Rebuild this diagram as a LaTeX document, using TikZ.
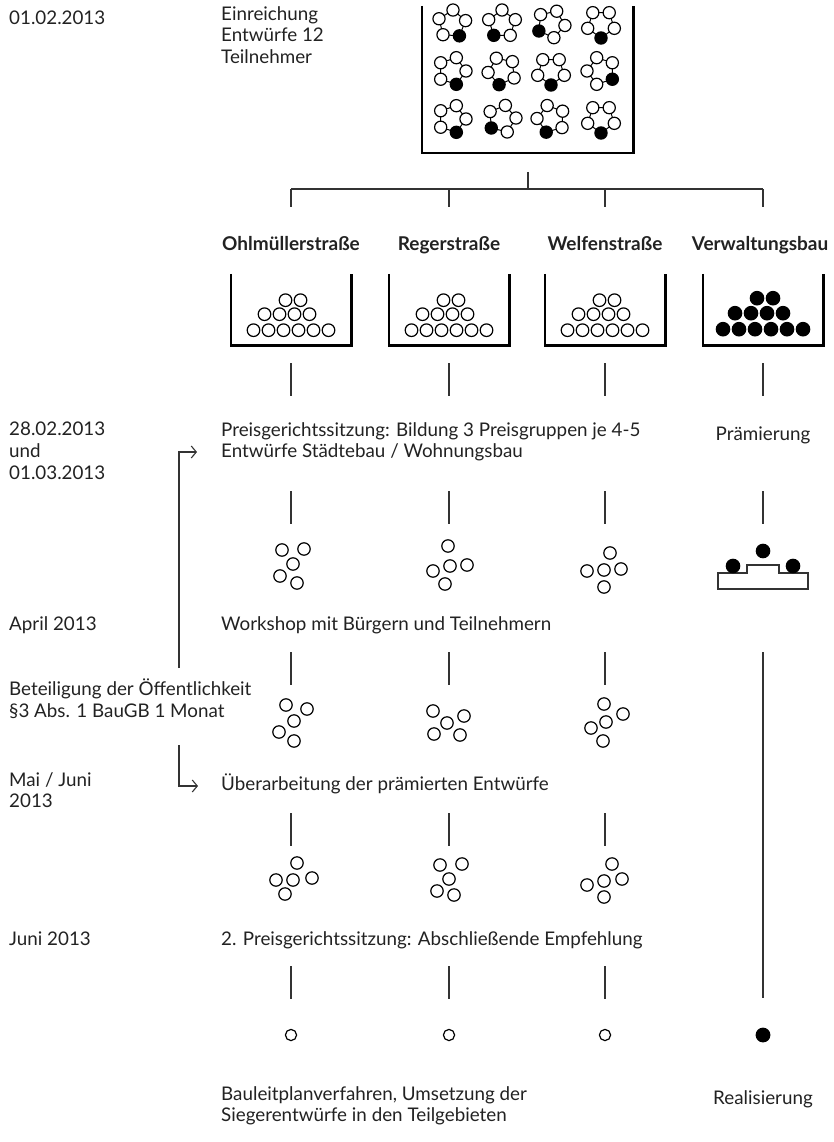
\documentclass[tikz,border=0pt]{standalone}
\usepackage{fontspec}
\setmainfont{Lato}
\usepackage{tikz}
\usetikzlibrary{arrows.meta}
\definecolor{ink}{HTML}{222222}
\definecolor{rule}{HTML}{333333}
\tikzset{
  txt/.style={anchor=north west, inner sep=0, align=left, text=ink, font=\fontsize{18.8}{21.8}\selectfont, execute at begin node={\rule{0pt}{18pt}}},
  mid/.style={anchor=base, inner sep=0, text=ink, font=\fontsize{18.8}{21.8}\selectfont},
  head/.style={anchor=base, inner sep=0, text=ink, font=\fontsize{19}{22}\selectfont\bfseries},
  tick/.style={draw=rule, line width=1.2pt},
  bin/.style={draw=black, line width=2.6pt},
  dot/.style={draw=black, fill=white, line width=1.2pt},
  full/.style={draw=black, fill=black, line width=1.2pt},
  arr/.style={draw=rule, line width=1.1pt, -{Straight Barb[length=5pt,width=12pt]}}
}
\newcommand\grp[2]{\begin{scope}[shift={(#1)}]\foreach \x/\y in {#2} \draw[dot] (\x,\y) circle (6.2pt);\end{scope}}

\begin{document}
\begin{tikzpicture}[x=1pt, y=-1pt]
  \useasboundingbox (0,0) rectangle (833,1142);

  \node[txt] (d1) at (9,6) {01.02.2013};
  \node[txt] (t1) at (221,6) {Einreichung\\Entwürfe 12\\Teilnehmer};

  \node[minimum width=211, minimum height=147, inner sep=0] (pool) at (527.5,79.5) {};
  \draw[bin] (pool.north west) |- (pool.south east) -- (pool.north east);
  \foreach \mx/\my/\ma in {452/24/58, 502/24/126, 551/24/150, 601/24/90,
                          452/71/72, 502/71/102, 551/71/90, 601/71/36,
                          452/119/72, 502/119/140, 551/119/110, 601/119/90} {
    \draw[line width=1pt] (\mx,\my) +(\ma:14) -- +(\ma+72:14) -- +(\ma+144:14) -- +(\ma+216:14) -- +(\ma+288:14) -- cycle;
    \foreach \k in {1,...,4} \draw[dot] (\mx,\my) +(\ma+72*\k:14) circle (6.1pt);
    \draw[full] (\mx,\my) +(\ma:14) circle (6.1pt);
  }

  \coordinate (s0) at (528,172);
  \foreach \c/\x in {1/291,2/449,3/605,4/763} {
    \coordinate (k\c) at (\x,189);
    \coordinate (l\c) at (\x,207);
    \draw[tick] (k\c) -- (l\c);
  }
  \draw[tick] (k1) -- (k4);
  \draw[tick] (s0) -- (s0 |- k1);

  \node[head] (h1) at (291,250) {Ohlmüllerstraße};
  \node[head] (h2) at (449,250) {Regerstraße};
  \node[head] (h3) at (605,250) {Welfenstraße};
  \node[head] (h4) at (760,250) {Verwaltungsbau};

  \foreach \c/\x in {1/291,2/449,3/605,4/763} {
    \node[minimum width=120, minimum height=71, inner sep=0] (bin\c) at (\x,309.5) {};
    \draw[bin] (bin\c.north west) |- (bin\c.south east) -- (bin\c.north east);
  }
  \foreach \c in {1,2,3} {
    \foreach \dx in {-37.5,-22.5,-7.5,7.5,22.5,37.5} \draw[dot] ([xshift=\dx pt, yshift=15pt]bin\c.south) circle (6.3pt);
    \foreach \dx in {-26.5,-11.5,3.5,18.5} \draw[dot] ([xshift=\dx pt, yshift=31pt]bin\c.south) circle (6.3pt);
    \foreach \dx in {-5.5,9.5} \draw[dot] ([xshift=\dx pt, yshift=45pt]bin\c.south) circle (6.3pt);
  }
  \foreach \dx in {-40,-24,-8,8,24,40} \draw[full] ([xshift=\dx pt, yshift=16pt]bin4.south) circle (6.7pt);
  \foreach \dx in {-28,-12,4,20} \draw[full] ([xshift=\dx pt, yshift=32pt]bin4.south) circle (6.7pt);
  \foreach \dx in {-6,10} \draw[full] ([xshift=\dx pt, yshift=47pt]bin4.south) circle (6.7pt);

  \foreach \r/\ya/\yb in {a/363/396, b/491/524}
    \foreach \c/\x in {1/291,2/449,3/605,4/763} {
      \coordinate (\r\c) at (\x,\ya);
      \coordinate (\r\c e) at (\x,\yb);
      \draw[tick] (\r\c) -- (\r\c e);
    }
  \foreach \r/\ya/\yb in {c/652/685, d/813/846, e/966/999}
    \foreach \c/\x in {1/291,2/449,3/605} {
      \coordinate (\r\c) at (\x,\ya);
      \coordinate (\r\c e) at (\x,\yb);
      \draw[tick] (\r\c) -- (\r\c e);
    }
  \coordinate (c4) at (763,652);
  \coordinate (c4e) at (763,998);
  \draw[tick] (c4) -- (c4e);

  \node[txt] (d2) at (9,422) {28.02.2013\\und\\01.03.2013};
  \node[txt] (t2) at (221,422) {Preisgerichtssitzung: Bildung 3 Preisgruppen je 4-5\\Entwürfe Städtebau / Wohnungsbau};
  \node[mid] (p1) at (763,440) {Prämierung};

  \coordinate (ga1) at (293,566);
  \coordinate (ga2) at (450,566);
  \coordinate (ga3) at (604,570);
  \grp{ga1}{-11/-16,11/-17,0/-2,-13/10,4/17}
  \grp{ga2}{-2/-20,17/-1,0/0,-17/5,-5/18}
  \grp{ga3}{6/-17,17/-1,0/0,-17/1,0/17}

  \draw[draw=rule, line width=1.6pt] (718,589) |- (747,573) |- (779,565) |- (808,573) |- cycle;
  \draw[full] (733,566) circle (6.7pt);
  \draw[full] (763,551) circle (6.7pt);
  \draw[full] (793,566) circle (6.7pt);

  \node[txt] (d3) at (9,612) {April 2013};
  \node[txt] (t3) at (221,612) {Workshop mit Bürgern und Teilnehmern};

  \node[txt] (d4) at (9,679) {Beteiligung der Öffentlichkeit\\§3 Abs. 1 BauGB 1 Monat};
  \coordinate (gb1) at (294,721);
  \coordinate (gb2) at (447,723);
  \coordinate (gb3) at (606,722);
  \grp{gb1}{-8/-16,13/-12,0/0,-15/11,0/20}
  \grp{gb2}{-14/-12,17/-7,0/0,-13/11,13/12}
  \grp{gb3}{-2/-18,17/-8,0/0,-15/6,-3/19}

  \node[txt] (d5) at (9,772) {Mai / Juni\\2013};
  \node[txt] (t5) at (221,772) {Überarbeitung der prämierten Entwürfe};

  \coordinate (ua) at (179,668);
  \coordinate (ub) at (197,452);
  \draw[arr] (ua) |- (ub);
  \coordinate (da) at (179,745);
  \coordinate (db) at (198,786);
  \draw[arr] (da) |- (db);

  \coordinate (gc1) at (293,880);
  \coordinate (gc2) at (449,879);
  \coordinate (gc3) at (604,881);
  \grp{gc1}{4/-17,-17/0,0/0,19/-2,-8/14}
  \grp{gc2}{-9/-14,13/-15,0/0,-12/12,5/16}
  \grp{gc3}{8/-17,18/-2,0/0,-17/4,0/16}

  \node[txt] (d6) at (9,927) {Juni 2013};
  \node[txt] (t6) at (221,927) {2. Preisgerichtssitzung: Abschließende Empfehlung};

  \draw[dot] (291,1035) circle (5.6pt);
  \draw[dot] (449,1035) circle (5.6pt);
  \draw[dot] (605,1035) circle (5.6pt);
  \draw[full] (763,1035) circle (6.8pt);

  \node[txt] (t7) at (221,1086) {Bauleitplanverfahren, Umsetzung der\\Siegerentwürfe in den Teilgebieten};
  \node[mid] (p2) at (763,1104) {Realisierung};
\end{tikzpicture}
\end{document}
